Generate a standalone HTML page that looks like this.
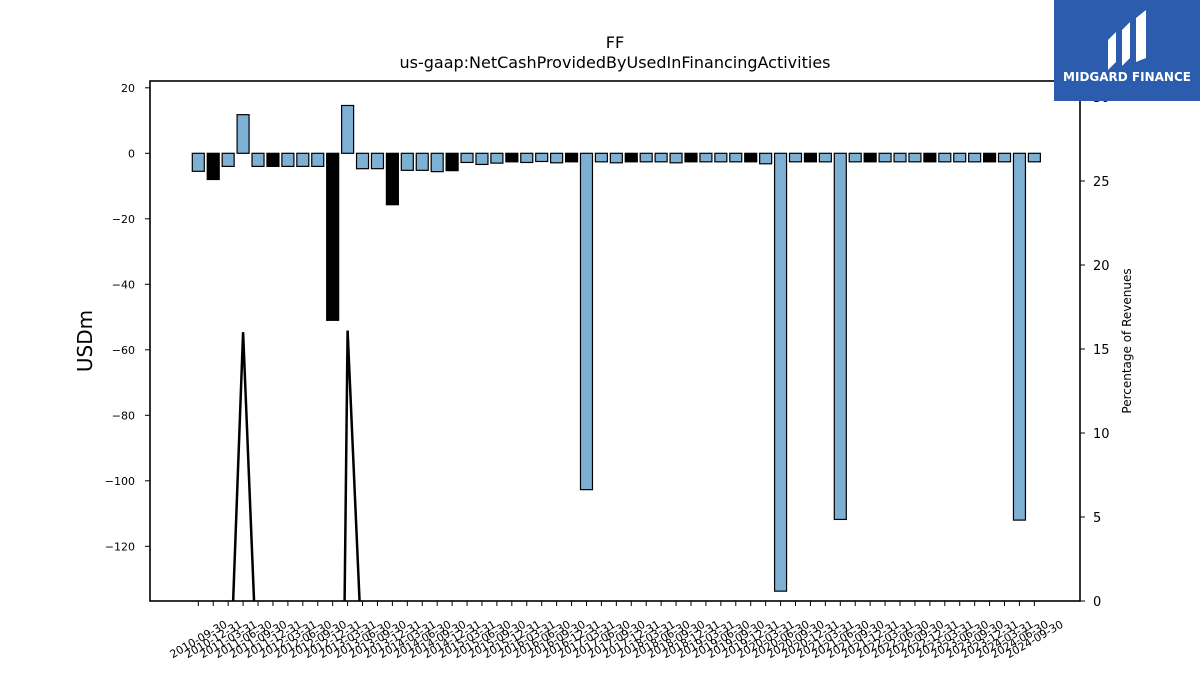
<!DOCTYPE html>
<html><head><meta charset="utf-8"><style>
body{margin:0;background:#fff;overflow:hidden;}
svg text{font-family:"DejaVu Sans","Liberation Sans",sans-serif;}
</style></head><body>
<svg id="chart" width="1200" height="675" viewBox="0 0 1200 675" xmlns="http://www.w3.org/2000/svg">
<rect width="1200" height="675" fill="#fff"/>
<text x="615" y="48" font-size="16" text-anchor="middle">FF</text>
<text x="615" y="68" font-size="16" text-anchor="middle">us-gaap:NetCashProvidedByUsedInFinancingActivities</text>
<text x="0" y="0" font-size="20" text-anchor="middle" transform="translate(92,341) rotate(-90)">USDm</text>
<text x="0" y="0" font-size="12" text-anchor="middle" transform="translate(1131,341) rotate(-90)">Percentage of Revenues</text>
<defs><clipPath id="clip"><rect x="150" y="81" width="930" height="520"/></clipPath></defs>
<g id="bars" clip-path="url(#clip)"></g>
<g id="line" clip-path="url(#clip)"></g>
<g id="axes"></g>
<rect x="150" y="81" width="930" height="520" fill="none" stroke="#000" stroke-width="1.6"/>
<g>
<rect x="1054" y="0" width="146" height="101" fill="#2b5cae"/>
<path d="M1108 70 L1108 40 L1116 32 L1116 62 Z M1122 66 L1122 30 L1130 22 L1130 58 Z M1136 62 L1136 18 L1146 10 L1146 58 Z" fill="#fff"/>
<text x="1127" y="81" font-size="12" font-weight="bold" fill="#fff" text-anchor="middle">MIDGARD FINANCE</text>
</g>
</svg>
<script>
const categories=["2010-09-30","2010-12-31","2011-03-31","2011-06-30","2011-09-30","2011-12-31","2012-03-31","2012-06-30","2012-09-30","2012-12-31","2013-03-31","2013-06-30","2013-09-30","2013-12-31","2014-03-31","2014-06-30","2014-09-30","2014-12-31","2015-03-31","2015-06-30","2015-09-30","2015-12-31","2016-03-31","2016-06-30","2016-09-30","2016-12-31","2017-03-31","2017-06-30","2017-09-30","2017-12-31","2018-03-31","2018-06-30","2018-09-30","2018-12-31","2019-03-31","2019-06-30","2019-09-30","2019-12-31","2020-03-31","2020-06-30","2020-09-30","2020-12-31","2021-03-31","2021-06-30","2021-09-30","2021-12-31","2022-03-31","2022-06-30","2022-09-30","2022-12-31","2023-03-31","2023-06-30","2023-09-30","2023-12-31","2024-03-31","2024-06-30","2024-09-30"];
const values=[-5.5,-8,-4,11.8,-4,-4,-4,-4,-4,-51,14.6,-4.7,-4.7,-15.7,-5.2,-5.2,-5.6,-5.3,-2.8,-3.4,-3,-2.6,-2.8,-2.5,-2.9,-2.6,-102.7,-2.6,-2.9,-2.6,-2.6,-2.6,-2.9,-2.6,-2.6,-2.6,-2.6,-2.6,-3.2,-133.7,-2.6,-2.6,-2.6,-111.8,-2.6,-2.6,-2.6,-2.6,-2.6,-2.6,-2.6,-2.6,-2.6,-2.6,-2.6,-112,-2.6];
const pctValues=[null,null,-8,16,-5.8,null,null,null,null,-64,16.1,-4,null,null,null,null,null,null,null,null,null,null,null,null,null,null,null,null,null,null,null,null,null,null,null,null,null,null,null,null,null,null,null,null,null,null,null,null,null,null,null,null,null,null,null,null,null];
const yTicks=[20,0,-20,-40,-60,-80,-100,-120];
const y2Ticks=[0,5,10,15,20,25,30];
const NS="http://www.w3.org/2000/svg";
const X=i=>198.3+i*14.93;
const Y=v=>153.3-v*3.275;
const Y2=v=>601-v*16.8;
function mk(t,a,p){const e=document.createElementNS(NS,t);for(const k in a)e.setAttribute(k,a[k]);p.appendChild(e);return e;}
const bars=document.getElementById('bars'),axes=document.getElementById('axes'),line=document.getElementById('line');
values.forEach((v,i)=>{
 const y0=Y(0),y1=Y(v);
 const r=mk('rect',{x:X(i)-6,y:Math.min(y0,y1),width:12,height:Math.abs(y1-y0),fill:(i%4===1)?'#000':'#7eb0d4',stroke:'#000','stroke-width':1.2},bars);
 
 
});
let seg=[];
const segs=[];
pctValues.forEach((v,i)=>{if(v===null){if(seg.length)segs.push(seg);seg=[];}else seg.push(X(i)+','+Y2(v));});
if(seg.length)segs.push(seg);
segs.forEach(s=>{
 const p=mk('polyline',{points:s.join(' '),fill:'none',stroke:'#000','stroke-width':2.5},line);
 
 
});
yTicks.forEach(t=>{
 mk('line',{x1:145,x2:150,y1:Y(t),y2:Y(t),stroke:'#000'},axes);
 const tx=mk('text',{x:135,y:Y(t)+4,'font-size':11,'text-anchor':'end'},axes);
 tx.textContent=(t<0?'\u2212'+(-t):t);
 
 
});
y2Ticks.forEach(t=>{
 mk('line',{x1:1080,x2:1085,y1:Y2(t),y2:Y2(t),stroke:'#000'},axes);
 const tx=mk('text',{x:1093,y:Y2(t)+5,'font-size':13},axes);
 tx.textContent=t;
 
 
});
categories.forEach((c,i)=>{
 mk('line',{x1:X(i),x2:X(i),y1:601,y2:606,stroke:'#000'},axes);
 const tx=mk('text',{x:0,y:4,'font-size':11,'text-anchor':'middle',transform:`translate(${X(i)},639) rotate(-30)`},axes);
 tx.textContent=c;
 
 
});
</script>
</body></html>
